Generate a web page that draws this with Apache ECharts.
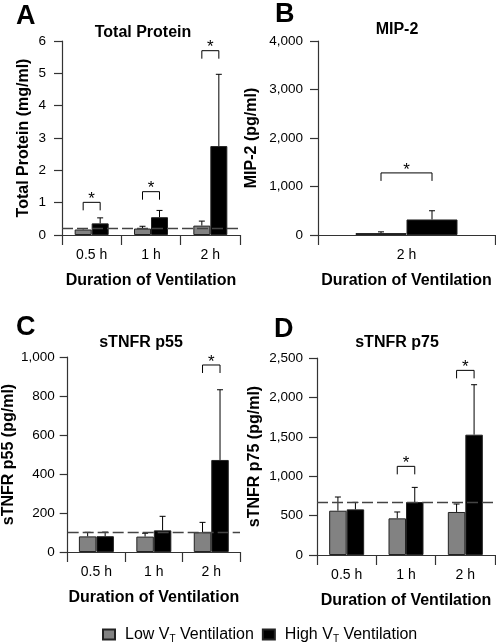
<!DOCTYPE html>
<html>
<head>
<meta charset="utf-8">
<script src="https://cdn.jsdelivr.net/npm/echarts@6/dist/echarts.min.js"></script>
<style>
html,body{margin:0;padding:0;background:#fff;}
#chart{width:496px;height:642px;}
</style>
</head>
<body>
<div id="chart"></div>
<script>
// ---------------- DATA ----------------
const categories = ['0.5 h', '1 h', '2 h'];
const mipCategories = ['2 h'];

// Panel A: Total Protein (mg/ml)
const protLow = [0.17, 0.20, 0.29];
const protLowSD = [0.03, 0.07, 0.14];
const protHigh = [0.36, 0.55, 2.75];
const protHighSD = [0.17, 0.21, 2.22];
const protBaseline = 0.21;
const protSig = [1.01, 1.34, 5.7];
const protTicks = { min: 0, max: 6, interval: 1 };

// Panel B: MIP-2 (pg/ml)
const mipLow = [40];
const mipLowSD = [25];
const mipHigh = [320];
const mipHighSD = [180];
const mipSig = [1280];
const mipTicks = { min: 0, max: 4000, interval: 1000 };

// Panel C: sTNFR p55 (pg/ml)
const p55Low = [80, 79, 101];
const p55LowSD = [21, 17, 51];
const p55High = [81, 111, 472];
const p55HighSD = [21, 72, 360];
const p55Baseline = 102;
const p55Sig = [null, null, 959];
const p55Ticks = { min: 0, max: 1000, interval: 200 };

// Panel D: sTNFR p75 (pg/ml)
const p75Low = [562, 465, 546];
const p75LowSD = [174, 81, 101];
const p75High = [579, 672, 1527];
const p75HighSD = [89, 186, 634];
const p75Baseline = 664;
const p75Sig = [null, 1125, 2343];
const p75Ticks = { min: 0, max: 2500, interval: 500 };

const lowName = 'Low';
const highName = 'High';

// ---------------- STYLE ----------------
const FONT = "'Liberation Sans', Arial, Helvetica, sans-serif";
const AXIS_COLOR = '#333';
const GRAY = '#828282';

const grids = [
  { left: 62, top: 41, width: 178, height: 194 },
  { left: 318, top: 41, width: 177, height: 194 },
  { left: 62, top: 357, width: 178, height: 195 },
  { left: 317, top: 358, width: 178, height: 197 }
];
const barWidths = [17, 51, 17.5, 17.5];

function fmt(v) { return v.toLocaleString('en-US'); }

function xAxisFor(gi, data) {
  return {
    type: 'category', gridIndex: gi, data: data,
    axisLine: { lineStyle: { color: AXIS_COLOR, width: 1.2 } },
    axisTick: { show: true, alignWithLabel: false, length: 10, lineStyle: { color: AXIS_COLOR, width: 1.2 } },
    axisLabel: { color: '#000', fontSize: 14, fontFamily: FONT, margin: 13 },
    name: 'Duration of Ventilation', nameLocation: 'middle', nameGap: 38,
    nameTextStyle: { color: '#000', fontSize: 16, fontWeight: 'bold', fontFamily: FONT }
  };
}
function yAxisFor(gi, ticks, name, gap, margin) {
  return {
    type: 'value', gridIndex: gi, min: ticks.min, max: ticks.max, interval: ticks.interval,
    axisLine: { show: true, lineStyle: { color: AXIS_COLOR, width: 1.2 } },
    axisTick: { show: true, length: 8, lineStyle: { color: AXIS_COLOR, width: 1.2 } },
    splitLine: { show: false },
    axisLabel: { color: '#000', fontSize: 13.5, fontFamily: FONT, margin: margin, formatter: fmt },
    name: name, nameLocation: 'middle', nameRotate: 90, nameGap: gap,
    nameTextStyle: { color: '#000', fontSize: 16, fontWeight: 'bold', fontFamily: FONT }
  };
}

function barSeries(gi, name, values, color, baseline) {
  const s = {
    type: 'bar', name: name, xAxisIndex: gi, yAxisIndex: gi, data: values,
    barWidth: barWidths[gi], barGap: '0%',
    itemStyle: { color: color, borderColor: '#222', borderWidth: 1 },
    z: 2
  };
  if (baseline != null) {
    s.markLine = {
      silent: true, symbol: 'none', label: { show: false },
      lineStyle: { color: '#444', type: [11, 4], width: 1.3 },
      data: [{ yAxis: baseline }], z: 3
    };
  }
  return s;
}

function errSeries(gi, values, sds, side) {
  const bw = barWidths[gi];
  return {
    type: 'custom', xAxisIndex: gi, yAxisIndex: gi, z: 1, silent: true,
    data: values.map((v, i) => [i, v, sds[i]]),
    renderItem: function (params, api) {
      const i = api.value(0), m = api.value(1), sd = api.value(2);
      const p0 = api.coord([i, m]);
      const p1 = api.coord([i, m + sd]);
      const x = p0[0] + side * bw / 2;
      const cap = 3;
      return {
        type: 'group',
        children: [
          { type: 'line', shape: { x1: x, y1: p0[1], x2: x, y2: p1[1] }, style: { stroke: '#000', lineWidth: 1 } },
          { type: 'line', shape: { x1: x - cap, y1: p1[1], x2: x + cap, y2: p1[1] }, style: { stroke: '#000', lineWidth: 1 } }
        ]
      };
    }
  };
}

function sigSeries(gi, sig) {
  const bw = barWidths[gi];
  const data = [];
  sig.forEach((v, i) => { if (v != null) data.push([i, v]); });
  return {
    type: 'custom', xAxisIndex: gi, yAxisIndex: gi, z: 4, silent: true,
    data: data,
    renderItem: function (params, api) {
      const p = api.coord([api.value(0), api.value(1)]);
      const xl = p[0] - bw / 2, xr = p[0] + bw / 2, y = p[1];
      const drop = 8;
      return {
        type: 'group',
        children: [
          { type: 'polyline', shape: { points: [[xl, y + drop], [xl, y], [xr, y], [xr, y + drop]] }, style: { stroke: '#000', lineWidth: 1, fill: null } },
          { type: 'text', style: { x: p[0], y: y - 3, text: '*', textAlign: 'center', textVerticalAlign: 'middle', fontSize: 17, fontFamily: FONT, fill: '#000' } }
        ]
      };
    }
  };
}

const chart = echarts.init(document.getElementById('chart'), null, { renderer: 'canvas' });

const option = {
  backgroundColor: '#fff',
  animation: false,
  textStyle: { fontFamily: FONT },
  grid: grids,
  xAxis: [
    xAxisFor(0, categories),
    xAxisFor(1, mipCategories),
    xAxisFor(2, categories),
    xAxisFor(3, categories)
  ],
  yAxis: [
    yAxisFor(0, protTicks, 'Total Protein (mg/ml)', 30, 16),
    yAxisFor(1, mipTicks, 'MIP-2 (pg/ml)', 58, 15),
    yAxisFor(2, p55Ticks, 'sTNFR p55 (pg/ml)', 47, 13),
    yAxisFor(3, p75Ticks, 'sTNFR p75 (pg/ml)', 54, 14)
  ],
  legend: {
    data: [{ name: lowName, icon: 'rect' }, { name: highName, icon: 'rect' }],
    left: 97, top: 620, itemWidth: 12, itemHeight: 10, itemGap: 8,
    selectedMode: false,
    formatter: function (n) {
      return n === lowName ? '{f|Low V}{s|T}{t| Ventilation}' : '{f|High V}{s|T}{t| Ventilation}';
    },
    textStyle: {
      color: '#000', fontFamily: FONT,
      rich: {
        f: { fontSize: 16, fontFamily: FONT, color: '#000', lineHeight: 20, padding: [0, 0, 0, 5] },
        t: { fontSize: 16, fontFamily: FONT, color: '#000', lineHeight: 20 },
        s: { fontSize: 10, fontFamily: FONT, color: '#000', lineHeight: 20, padding: [9, 0, 0, 0] }
      }
    }
  },
  graphic: [
    { type: 'text', left: 16, top: 3, style: { text: 'A', font: "bold 27px " + FONT, fill: '#000' } },
    { type: 'text', left: 275, top: 1, style: { text: 'B', font: "bold 27px " + FONT, fill: '#000' } },
    { type: 'text', left: 16, top: 314, style: { text: 'C', font: "bold 27px " + FONT, fill: '#000' } },
    { type: 'text', left: 274, top: 316, style: { text: 'D', font: "bold 27px " + FONT, fill: '#000' } },
    { type: 'text', x: 143, y: 33, style: { text: 'Total Protein', textAlign: 'center', textVerticalAlign: 'middle', font: "bold 16px " + FONT, fill: '#000' } },
    { type: 'text', x: 397, y: 30, style: { text: 'MIP-2', textAlign: 'center', textVerticalAlign: 'middle', font: "bold 16px " + FONT, fill: '#000' } },
    { type: 'text', x: 141, y: 343, style: { text: 'sTNFR p55', textAlign: 'center', textVerticalAlign: 'middle', font: "bold 16px " + FONT, fill: '#000' } },
    { type: 'text', x: 397, y: 343, style: { text: 'sTNFR p75', textAlign: 'center', textVerticalAlign: 'middle', font: "bold 16px " + FONT, fill: '#000' } }
  ],
  series: [
    barSeries(0, lowName, protLow, GRAY, protBaseline),
    barSeries(0, highName, protHigh, '#000', null),
    errSeries(0, protLow, protLowSD, -1),
    errSeries(0, protHigh, protHighSD, 1),
    sigSeries(0, protSig),

    barSeries(1, lowName, mipLow, GRAY, null),
    barSeries(1, highName, mipHigh, '#000', null),
    errSeries(1, mipLow, mipLowSD, -1),
    errSeries(1, mipHigh, mipHighSD, 1),
    sigSeries(1, mipSig),

    barSeries(2, lowName, p55Low, GRAY, p55Baseline),
    barSeries(2, highName, p55High, '#000', null),
    errSeries(2, p55Low, p55LowSD, -1),
    errSeries(2, p55High, p55HighSD, 1),
    sigSeries(2, p55Sig),

    barSeries(3, lowName, p75Low, GRAY, p75Baseline),
    barSeries(3, highName, p75High, '#000', null),
    errSeries(3, p75Low, p75LowSD, -1),
    errSeries(3, p75High, p75HighSD, 1),
    sigSeries(3, p75Sig)
  ]
};
chart.setOption(option);
</script>
</body>
</html>
